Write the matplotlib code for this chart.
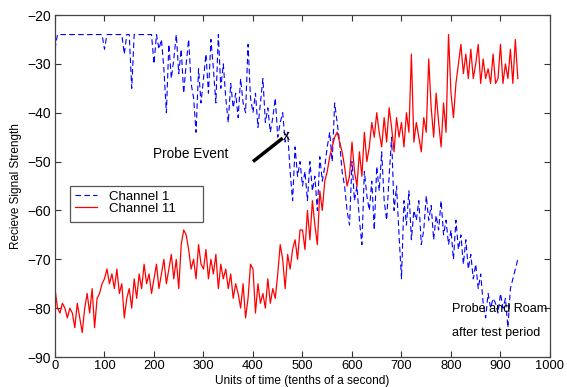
import numpy as np
import matplotlib
matplotlib.use("Agg")
import matplotlib.pyplot as plt
from matplotlib.patches import Rectangle

plt.rcParams['font.family'] = ['Liberation Sans', 'DejaVu Sans']

# time axis (tenths of a second), sampled every 5 units
time = np.arange(0, 940, 5)

channel1 = [
    -27, -24, -24, -24, -24, -24, -24, -24, -24, -24,
    -24, -24, -24, -24, -24, -24, -24, -24, -24, -24,
    -27, -24, -24, -24, -24, -24, -24, -24, -28, -24,
    -24, -35, -24, -24, -24, -24, -24, -24, -24, -24,
    -30, -24, -27, -25, -31, -40, -26, -33, -29, -24,
    -32, -27, -36, -30, -25, -34, -37, -44, -31, -38,
    -33, -28, -36, -25, -31, -38, -24, -35, -30, -37,
    -42, -34, -39, -36, -41, -33, -38, -40, -26, -37,
    -40, -36, -43, -38, -33, -42, -39, -44, -41, -37,
    -45, -42, -40, -46, -44, -52, -58, -47, -53, -50,
    -55, -52, -58, -50, -56, -53, -60, -49, -54, -51,
    -47, -44, -50, -38, -42, -46, -52, -55, -60, -63,
    -50, -58, -55, -62, -67, -52, -57, -60, -54, -64,
    -51, -56, -48, -58, -62, -53, -45, -60, -55, -65,
    -74, -58, -63, -56, -66, -60, -62, -58, -67, -64,
    -57, -62, -59, -66, -61, -64, -58, -65, -62, -67,
    -64, -70, -62, -68, -65, -71, -66, -72, -69, -74,
    -71, -76, -73, -79, -82, -77, -80, -78, -79, -81,
    -77, -80, -78, -84, -76, -74, -72, -70,
]

channel11 = [
    -76, -80, -81, -79, -80, -82, -80, -81, -84, -79,
    -82, -85, -80, -77, -81, -76, -84, -78, -77, -75,
    -74, -72, -75, -73, -76, -72, -77, -75, -82, -78,
    -76, -80, -74, -78, -73, -76, -71, -75, -73, -77,
    -74, -71, -76, -73, -70, -75, -72, -69, -74, -70,
    -76, -67, -64, -65, -68, -72, -70, -74, -67, -71,
    -72, -68, -74, -70, -73, -69, -76, -71, -74, -72,
    -76, -73, -78, -75, -77, -80, -75, -82, -78, -71,
    -72, -81, -75, -79, -77, -80, -74, -79, -76, -78,
    -73, -67, -70, -76, -69, -72, -68, -66, -70, -64,
    -64, -68, -60, -66, -58, -63, -67, -56, -60, -54,
    -52, -49, -47, -45, -44, -46, -48, -51, -55, -53,
    -46, -52, -55, -48, -53, -44, -50, -47, -42, -45,
    -40, -44, -47, -41, -46, -39, -43, -48, -41, -45,
    -42, -47, -40, -44, -28, -46, -42, -45, -48, -41,
    -44, -29, -39, -45, -36, -42, -47, -38, -44, -24,
    -36, -41, -34, -30, -26, -32, -28, -33, -27, -33,
    -30, -26, -34, -29, -33, -31, -34, -28, -34, -33,
    -26, -34, -30, -33, -27, -34, -25, -33,
]

x_ticks = [0, 100, 200, 300, 400, 500, 600, 700, 800, 900, 1000]
y_ticks = [-90, -80, -70, -60, -50, -40, -30, -20]

fig = plt.figure(figsize=(5.67, 3.87), dpi=100)
ax = fig.add_axes([0.097, 0.0775, 0.873, 0.8837])

ax.plot(time, channel1, color='blue', linestyle=(0, (5, 3)), lw=0.8,
        label='Channel 1')
ax.plot(time, channel11, color='red', linestyle='-', lw=0.9,
        label='Channel 11')

# Probe event marker
ax.plot([400, 460], [-50, -45.2], color='black', lw=2.5, solid_capstyle='butt')
ax.text(468, -44.7, 'x', fontsize=10, ha='center', va='center')
ax.text(198, -48.5, 'Probe Event', fontsize=9.8, va='center')
ax.text(802, -80.2, 'Probe and Roam', fontsize=9.1, va='center')
ax.text(802, -85.1, 'after test period', fontsize=9.1, va='center')

ax.set_xlim(0, 1000)
ax.set_ylim(-90, -20)
ax.set_xticks(x_ticks)
ax.set_yticks(y_ticks)
ax.tick_params(direction='in', length=4, width=0.8, top=True, right=True,
               labelsize=9.3, colors='#333333', labelcolor='black', pad=2)
ax.tick_params(axis='y', pad=3, labelsize=10)
for s in ax.spines.values():
    s.set_color('#444444')
    s.set_linewidth(0.9)

# x label placed at the bottom edge of the figure
ax_box = ax.get_position()
fig.text((ax_box.x0 + ax_box.x1) / 2, 0.0, 'Units of time (tenths of a second)',
         fontsize=8.6, ha='center', va='bottom')
ax.set_ylabel('Recieve Signal Strength', fontsize=8.5, labelpad=4)

# legend frame drawn as a rectangle to match its wide right padding
ax.add_patch(Rectangle((0.0303, 0.395), 0.269, 0.105, transform=ax.transAxes,
                       facecolor='white', edgecolor='#555555', lw=0.9,
                       zorder=4))
leg = ax.legend(loc='upper left', bbox_to_anchor=(0.031, 0.5), fontsize=9.5,
                frameon=False, borderpad=0.35, labelspacing=0.0,
                handlelength=1.7, handletextpad=0.85, borderaxespad=0)
leg.set_zorder(5)

fig.savefig('out.png', dpi=100)
